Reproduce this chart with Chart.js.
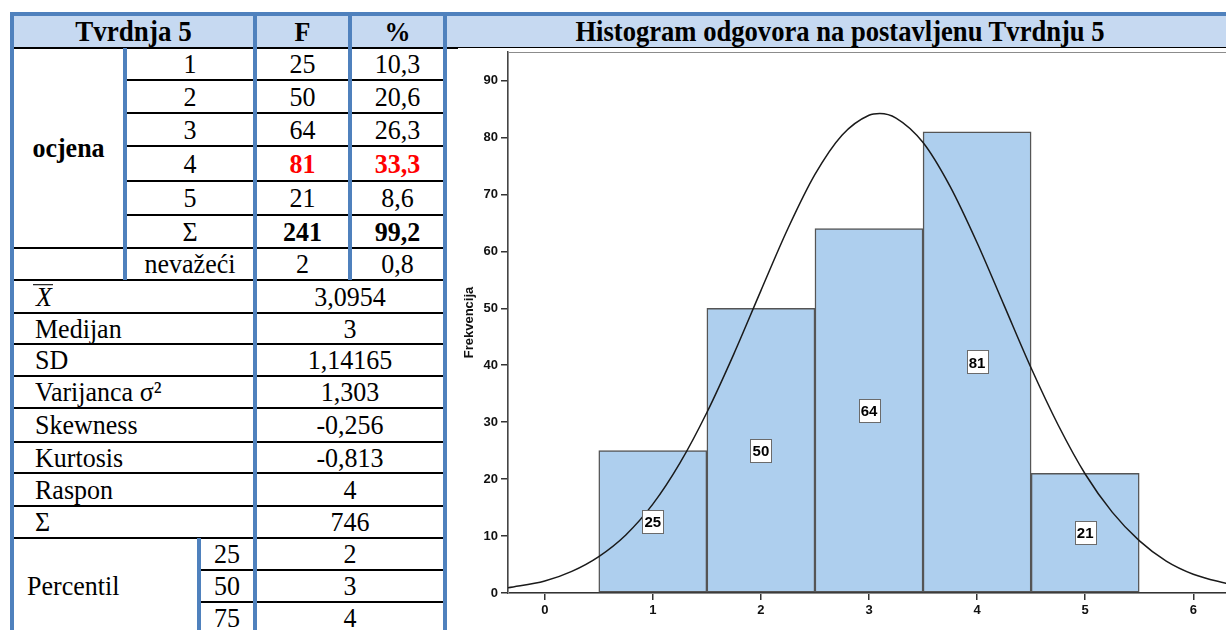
<!DOCTYPE html>
<html>
<head>
<meta charset="utf-8">
<script src="https://cdn.jsdelivr.net/npm/chart.js@4.4.0/dist/chart.umd.min.js"></script>
<style>
  html, body { margin: 0; padding: 0; background: #fff; width: 1226px; height: 630px; overflow: hidden; }
  #page { position: relative; width: 1226px; height: 630px; font-family: "Liberation Serif", "Times New Roman", serif; font-size: 26px; color: #000; }
  .c { position: absolute; display: flex; align-items: center; justify-content: center; white-space: nowrap; }
  .c > span { display: inline-block; transform: scaleY(1.07); }
  .l { justify-content: flex-start; }
  .b { font-weight: bold; }
  .red { color: #ff0000; font-weight: bold; }
  .ln { position: absolute; }
  .xbar { display: inline-block; font-style: italic; border-top: 1.5px solid #000; line-height: 21px; padding: 0 1px 0 3px; }
  #chartBox { position: absolute; left: 447px; top: 49px; width: 783px; height: 581px; }
</style>
</head>
<body>
<div id="page">
  <div class="ln" style="left:14px; top:16px; width:1219px; height:31px; background:#c6d9f1;"></div>
  <div id="chartBox"><canvas id="histogram"></canvas></div>
</div>
<script>
// histogram data
var grades = [1, 2, 3, 4, 5];
var frequencies = [25, 50, 64, 81, 21];
var percents = ["10,3", "20,6", "26,3", "33,3", "8,6"];

// normal curve
var curveX = [-0.34, 0, 0.25, 0.5, 0.75, 1, 1.25, 1.5, 1.75, 2, 2.25, 2.5, 2.75, 3, 3.1, 3.25, 3.5, 3.75, 4, 4.25, 4.5, 4.75, 5, 5.25, 5.5, 5.75, 6, 6.34];
var curveY = [0.9, 2.1, 3.8, 6.4, 10.2, 15.6, 22.8, 31.7, 42.0, 53.1, 64.0, 73.5, 80.4, 83.9, 84.2, 83.4, 79.1, 71.4, 61.5, 50.5, 39.5, 29.5, 20.9, 14.2, 9.2, 5.6, 3.3, 1.5];

// table rows
var statLabels = ['<span class="xbar">X</span>', "Medijan", "SD", "Varijanca σ²", "Skewness", "Kurtosis", "Raspon", "Σ"];
var statValues = ["3,0954", "3", "1,14165", "1,303", "-0,256", "-0,813", "4", "746"];
var percentiles = ["25", "50", "75"];
var percentileValues = ["2", "3", "4"];

var page = document.getElementById("page");
var blue = "#4f81bd";
var rowY = [48, 80, 113, 146, 181, 215, 248, 280, 313, 344, 376, 408, 442, 473, 506, 538, 570, 602, 634];

function box(x, y, w, h, color) {
  var d = document.createElement("div");
  d.className = "ln";
  d.style.cssText = "left:" + x + "px;top:" + y + "px;width:" + w + "px;height:" + h + "px;background:" + color;
  page.appendChild(d);
}
function hline(x1, x2, y) { box(x1, y - 1, x2 - x1, 2, "#000"); }
function vline(x, y1, y2) { box(x - 2, y1, 4, y2 - y1, blue); }
function cell(x1, x2, y1, y2, html, cls, padLeft) {
  var d = document.createElement("div");
  d.className = "c " + (cls || "");
  d.style.cssText = "left:" + x1 + "px;top:" + y1 + "px;width:" + (x2 - x1) + "px;height:" + (y2 - y1) + "px;" +
    (padLeft ? "padding-left:" + padLeft + "px;box-sizing:border-box;" : "");
  d.innerHTML = "<span>" + html + "</span>";
  page.appendChild(d);
}

// lines
box(10, 12, 1223, 4, blue);
hline(12, 458, 47.7);
box(447, 47, 786, 1, "#000");
for (var i = 1; i <= 5; i++) hline(125, 445, rowY[i]);
for (i = 6; i <= 15; i++) hline(12, 445, rowY[i]);
hline(199, 445, rowY[16]);
hline(199, 445, rowY[17]);
vline(12, 12, 630);
vline(125, 48, 280);
vline(199, 538, 630);
vline(255, 12, 630);
vline(350, 12, 280);
vline(445, 12, 630);

// header
cell(14, 253, 16, 47, '<span style="font-size:27px">Tvrdnja 5</span>', "b");
cell(257, 348, 16, 47, "F", "b");
cell(352, 443, 16, 47, "%", "b");
cell(447, 1233, 16, 47, '<span style="font-size:26.6px">Histogram odgovora na postavljenu Tvrdnju 5</span>', "b");

// grades
cell(14, 123, 48, 248, "ocjena", "b");
for (i = 0; i < grades.length; i++) {
  var hot = frequencies[i] === Math.max.apply(null, frequencies) ? "red" : "";
  cell(127, 253, rowY[i], rowY[i + 1], String(grades[i]));
  cell(257, 348, rowY[i], rowY[i + 1], String(frequencies[i]), hot);
  cell(352, 443, rowY[i], rowY[i + 1], percents[i], hot);
}
cell(127, 253, rowY[5], rowY[6], "Σ");
cell(257, 348, rowY[5], rowY[6], "241", "b");
cell(352, 443, rowY[5], rowY[6], "99,2", "b");
cell(127, 253, rowY[6], rowY[7], "nevažeći");
cell(257, 348, rowY[6], rowY[7], "2");
cell(352, 443, rowY[6], rowY[7], "0,8");

// stats
for (i = 0; i < statLabels.length; i++) {
  cell(14, 253, rowY[7 + i], rowY[8 + i], statLabels[i], "l", i === 0 ? 19 : 21);
  cell(257, 443, rowY[7 + i], rowY[8 + i], statValues[i]);
}
cell(14, 197, rowY[15], rowY[18], "Percentil", "l", 13);
for (i = 0; i < percentiles.length; i++) {
  cell(201, 253, rowY[15 + i], rowY[16 + i], percentiles[i]);
  cell(257, 443, rowY[15 + i], rowY[16 + i], percentileValues[i]);
}

// chart
Chart.defaults.font.family = '"Liberation Sans", Arial, sans-serif';
Chart.defaults.color = "#111";

var frame = {
  id: "frame",
  beforeDatasetsDraw: function(chart) {
    var a = chart.chartArea, ctx = chart.ctx;
    ctx.save();
    ctx.strokeStyle = "#8c8c8c";
    ctx.lineWidth = 1;
    ctx.strokeRect(a.left + 0.5, a.top + 0.5, a.right - a.left, a.bottom - a.top);
    ctx.restore();
  }
};

var barLabels = {
  id: "barLabels",
  afterDatasetsDraw: function(chart) {
    var meta = chart.getDatasetMeta(0), ctx = chart.ctx;
    ctx.save();
    ctx.font = "bold 15px 'Liberation Sans', Arial";
    ctx.textAlign = "center";
    ctx.textBaseline = "middle";
    meta.data.forEach(function(bar, k) {
      var txt = String(frequencies[k]);
      var cx = bar.x, cy = (bar.y + bar.base) / 2;
      var w = Math.round(ctx.measureText(txt).width + 4), h = 23;
      var bx = Math.round(cx - w / 2), by = Math.round(cy - h / 2);
      ctx.fillStyle = "#fff";
      ctx.fillRect(bx, by, w, h);
      ctx.strokeStyle = "#6b6b6b";
      ctx.lineWidth = 1;
      ctx.strokeRect(bx + 0.5, by + 0.5, w, h);
      ctx.fillStyle = "#000";
      ctx.fillText(txt, cx, cy + 1.5);
    });
    ctx.restore();
  }
};

var barPoints = grades.map(function(g, k) { return { x: g, y: frequencies[k] }; });
var curvePoints = curveX.map(function(x, k) { return { x: x, y: curveY[k] }; });

new Chart(document.getElementById("histogram"), {
  type: "bar",
  data: {
    datasets: [
      {
        label: "Frekvencija",
        data: barPoints,
        backgroundColor: "#aecfee",
        borderColor: "#555",
        borderWidth: 1.5,
        borderSkipped: false,
        barPercentage: 1,
        categoryPercentage: 1,
        order: 1
      },
      {
        type: "line",
        label: "Normalna",
        data: curvePoints,
        borderColor: "#1a1a1a",
        borderWidth: 1.5,
        pointRadius: 0,
        fill: false,
        cubicInterpolationMode: "monotone",
        order: 0
      }
    ]
  },
  options: {
    responsive: true,
    maintainAspectRatio: false,
    animation: false,
    layout: { padding: { top: 3, left: 0, right: 0, bottom: 0 } },
    plugins: { legend: { display: false }, tooltip: { enabled: false } },
    scales: {
      x: {
        type: "linear",
        min: -0.34,
        max: 6.34,
        offset: false,
        z: 1,
        grid: { offset: false, drawOnChartArea: false, drawTicks: true, tickLength: 7, color: "#333", lineWidth: 1.5 },
        border: { display: true, color: "#333", width: 2 },
        ticks: { stepSize: 1, includeBounds: false, padding: 3, font: { size: 13, weight: "bold" } },
        afterFit: function(s) { s.height = 37; s.paddingLeft = 0; s.paddingRight = 0; }
      },
      y: {
        min: 0,
        max: 95,
        z: 1,
        grid: { drawOnChartArea: false, drawTicks: true, tickLength: 7, color: "#333", lineWidth: 1.5 },
        border: { display: true, color: "#444", width: 1.5 },
        ticks: { stepSize: 10, includeBounds: false, padding: 3, font: { size: 13, weight: "bold" } },
        title: { display: true, text: "Frekvencija", font: { size: 13, weight: "bold" }, padding: { top: 15, bottom: 0 } },
        afterFit: function(s) { s.width = 61; s.paddingTop = 0; s.paddingBottom = 0; }
      }
    }
  },
  plugins: [frame, barLabels]
});
</script>
</body>
</html>
